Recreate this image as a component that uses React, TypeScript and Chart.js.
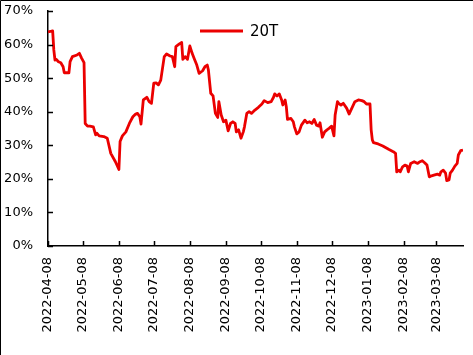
import React, { useEffect, useRef } from "react";
import { Chart, registerables } from "chart.js";

Chart.register(...registerables);

const START_DATE = "2022-04-08";
const seriesName = "20T";

// Days since START_DATE
const dayOffsets = [
  0, 3, 4, 5, 6, 7, 9, 11, 13, 14, 18, 19, 21, 25, 27, 29, 31, 32, 34, 36,
  39, 41, 42, 44, 48, 51, 54, 58, 61, 62, 64, 67, 70, 73, 75, 77, 79, 80, 82, 85,
  87, 89, 91, 93, 95, 97, 100, 102, 105, 107, 109, 110, 113, 115, 116, 118, 120, 122, 124, 126,
  128, 130, 133, 135, 137, 138, 140, 142, 144, 146, 147, 149, 151, 153, 155, 157, 159, 161, 162, 164,
  166, 168, 169, 171, 173, 175, 178, 181, 184, 186, 189, 192, 194, 195, 197, 199, 201, 202, 204, 205,
  206, 209, 211, 212, 214, 216, 218, 221, 223, 225, 227, 229, 231, 233, 234, 236, 238, 240, 242, 244,
  246, 247, 249, 250, 252, 254, 257, 259, 262, 264, 267, 270, 272, 274, 277, 278, 279, 280, 284, 288,
  293, 297, 299, 300, 302, 303, 305, 307, 309, 310, 312, 315, 318, 320, 322, 324, 326, 328, 330, 332,
  335, 337, 338, 340, 342, 343, 345, 346, 348, 350, 352, 353, 355, 357,
];

// Percent values
const values = [
  63.8, 64.0, 64.1, 58.4, 55.4, 55.6, 54.9, 54.6, 53.4, 51.6, 51.6, 54.9, 56.4, 56.9, 57.4, 55.9, 54.6, 36.5, 35.7, 35.7,
  35.5, 33.1, 33.6, 32.8, 32.6, 32.1, 27.6, 25.1, 22.8, 31.1, 32.8, 34.0, 36.5, 38.5, 39.2, 39.5, 38.5, 36.3, 43.5, 44.3,
  43.0, 42.5, 48.5, 48.6, 48.0, 49.4, 56.4, 57.2, 56.6, 56.4, 53.4, 59.4, 60.2, 60.6, 55.6, 56.4, 55.6, 59.6, 57.4, 55.6,
  53.9, 51.4, 52.2, 53.4, 53.9, 52.4, 45.5, 44.7, 39.5, 38.3, 43.0, 39.0, 37.0, 37.5, 34.3, 36.5, 37.0, 36.5, 34.0, 34.6,
  32.1, 34.0, 35.5, 39.5, 40.0, 39.5, 40.5, 41.3, 42.3, 43.3, 42.7, 43.0, 44.3, 45.3, 44.7, 45.3, 43.5, 42.0, 43.5, 41.5,
  37.7, 38.0, 37.0, 35.5, 33.4, 34.0, 36.0, 37.5, 36.7, 37.0, 36.5, 37.7, 36.0, 35.7, 36.7, 32.4, 34.0, 34.6, 35.1, 35.7,
  32.8, 39.0, 43.0, 42.5, 42.0, 42.5, 41.0, 39.3, 41.5, 43.0, 43.5, 43.3, 43.0, 42.3, 42.3, 34.6, 31.6, 30.8, 30.4, 29.8,
  28.8, 28.1, 27.6, 22.1, 22.6, 22.1, 23.6, 24.1, 23.8, 22.1, 24.6, 25.1, 24.6, 25.1, 25.4, 24.8, 24.1, 20.6, 20.9, 21.1,
  21.4, 21.1, 22.1, 22.6, 21.7, 19.5, 19.7, 21.7, 22.6, 23.8, 24.6, 27.1, 28.4, 28.6,
];

const tickDays = [0, 30, 61, 91, 122, 153, 183, 214, 244, 275, 306, 334];
const tickLabels = [
  "2022-04-08", "2022-05-08", "2022-06-08", "2022-07-08", "2022-08-08", "2022-09-08",
  "2022-10-08", "2022-11-08", "2022-12-08", "2023-01-08", "2023-02-08", "2023-03-08",
];
const yTicks = [0, 10, 20, 30, 40, 50, 60, 70];

const LINE_COLOR = "rgb(235,0,0)";
const FONT = "DejaVu Sans";

const framePlugin = {
  id: "frame",
  beforeDraw(chart: any) {
    const ctx = chart.ctx;
    ctx.save();
    ctx.fillStyle = "#fff";
    ctx.fillRect(0, 0, chart.width, chart.height);
    ctx.strokeStyle = "#000";
    ctx.lineWidth = 1;
    ctx.beginPath();
    ctx.moveTo(0.5, chart.height);
    ctx.lineTo(0.5, 0.5);
    ctx.lineTo(chart.width, 0.5);
    ctx.stroke();
    ctx.restore();
  },
};

const inwardTicksPlugin = {
  id: "inwardTicks",
  afterDraw(chart: any) {
    const ctx = chart.ctx;
    const { left, bottom } = chart.chartArea;
    const xs = chart.scales.x;
    const ys = chart.scales.y;
    ctx.save();
    ctx.strokeStyle = "#000";
    ctx.lineWidth = 1.5;
    ctx.beginPath();
    tickDays.forEach((d) => {
      const px = Math.round(xs.getPixelForValue(d)) + 0.5;
      ctx.moveTo(px, bottom);
      ctx.lineTo(px, bottom - 5);
    });
    yTicks.forEach((v) => {
      const py = Math.round(ys.getPixelForValue(v)) + 0.5;
      ctx.moveTo(left, py);
      ctx.lineTo(left + 5, py);
    });
    ctx.stroke();
    ctx.restore();
  },
};

const legendPlugin = {
  id: "customLegend",
  afterDraw(chart: any) {
    const ctx = chart.ctx;
    const { left, top } = chart.chartArea;
    const x0 = left + 152;
    const y0 = top + 20;
    ctx.save();
    ctx.strokeStyle = LINE_COLOR;
    ctx.lineWidth = 3;
    ctx.beginPath();
    ctx.moveTo(x0, y0);
    ctx.lineTo(x0 + 43, y0);
    ctx.stroke();
    ctx.fillStyle = "#000";
    ctx.font = `15px "${FONT}"`;
    ctx.textBaseline = "middle";
    ctx.textAlign = "left";
    ctx.fillText(seriesName, x0 + 50, y0 + 1);
    ctx.restore();
  },
};

export default function App() {
  const ref = useRef<HTMLCanvasElement>(null);

  useEffect(() => {
    const points = dayOffsets.map((d, i) => ({ x: d, y: values[i] }));
    const chart = new Chart(ref.current as HTMLCanvasElement, {
      type: "line",
      data: {
        datasets: [
          {
            label: seriesName,
            data: points,
            borderColor: LINE_COLOR,
            backgroundColor: LINE_COLOR,
            borderWidth: 2.8,
            pointRadius: 0,
            tension: 0,
            fill: false,
            borderJoinStyle: "round",
          },
        ],
      },
      options: {
        animation: false,
        responsive: false,
        devicePixelRatio: 1,
        layout: { padding: { top: 11, right: 10, left: 0, bottom: 0 } },
        plugins: {
          legend: { display: false },
          tooltip: { enabled: false },
        },
        scales: {
          x: {
            type: "linear",
            min: 0,
            max: dayOffsets[dayOffsets.length - 1],
            grid: { display: false, drawTicks: false },
            border: { display: true, color: "#000", width: 1.5 },
            afterBuildTicks: (s: any) => {
              s.ticks = tickDays.map((v) => ({ value: v }));
            },
            afterFit: (s: any) => {
              s.height = 109;
              s.paddingLeft = 0;
              s.paddingRight = 0;
            },
            ticks: {
              autoSkip: false,
              minRotation: 90,
              maxRotation: 90,
              padding: 11,
              color: "#000",
              font: { family: FONT, size: 13 },
              callback: (_v: any, i: number) => tickLabels[i],
            },
          },
          y: {
            min: 0,
            max: 70,
            grid: { display: false, drawTicks: false },
            border: { display: true, color: "#000", width: 1.5 },
            afterBuildTicks: (s: any) => {
              s.ticks = yTicks.map((v) => ({ value: v }));
            },
            afterFit: (s: any) => {
              s.width = 48;
              s.paddingTop = 0;
              s.paddingBottom = 0;
            },
            ticks: {
              padding: 15,
              color: "#000",
              font: { family: FONT, size: 13 },
              callback: (v: any) => `${v}%`,
            },
          },
        },
      },
      plugins: [framePlugin, inwardTicksPlugin, legendPlugin],
    });
    return () => chart.destroy();
  }, []);

  return (
    <div style={{ position: "fixed", left: 0, top: 0, width: 473, height: 355 }}>
      <canvas ref={ref} width={473} height={355} style={{ display: "block" }} />
    </div>
  );
}
